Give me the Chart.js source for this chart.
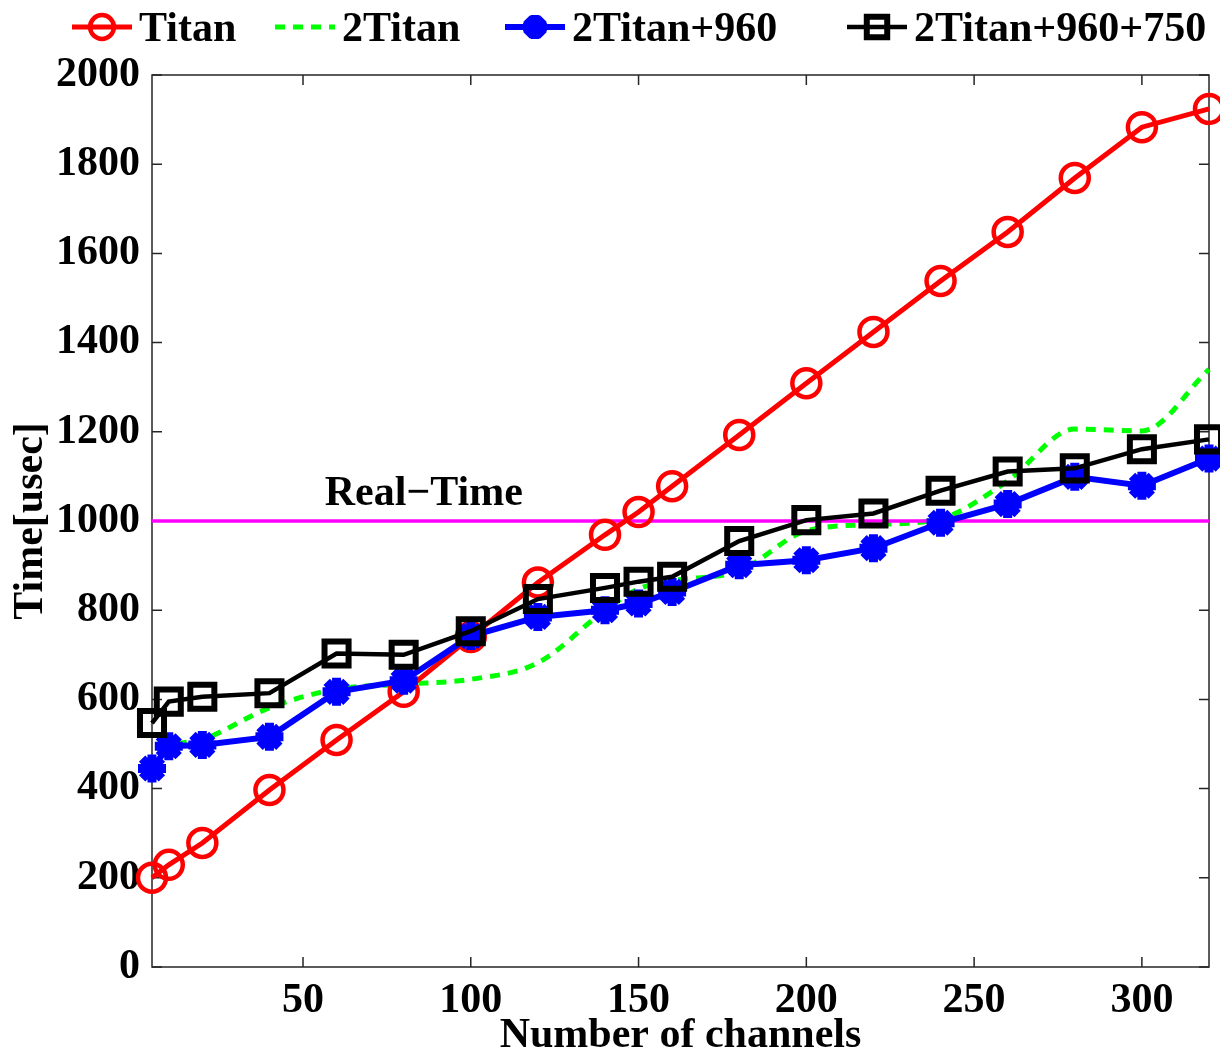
<!DOCTYPE html>
<html>
<head>
<meta charset="utf-8">
<script src="https://cdn.jsdelivr.net/npm/chart.js@4.4.0/dist/chart.umd.min.js"></script>
<style>
  html, body { margin: 0; padding: 0; background: #fff; }
  canvas { display: block; }
</style>
</head>
<body>
<canvas id="timeChart" width="1220" height="1053"></canvas>
<script>
// values
const channels = [5, 10, 20, 40, 60, 80, 100, 120, 140, 150, 160, 180, 200, 220, 240, 260, 280, 300, 320];
const titan = [200, 229, 278, 397, 509, 617, 740, 862, 969, 1020, 1078, 1193, 1309, 1424, 1538, 1648, 1769, 1883, 1924];
const twoTitan = [444, 491, 510, 581, 623, 634, 645, 682, 800, 848, 866, 888, 978, 992, 1005, 1090, 1206, 1202, 1340];
const twoTitan960 = [445, 495, 498, 516, 617, 642, 742, 785, 800, 815, 841, 901, 912, 939, 996, 1038, 1099, 1079, 1140];
const twoTitan960750 = [547, 595, 606, 614, 703, 700, 753, 825, 850, 864, 875, 955, 1002, 1017, 1068, 1111, 1118, 1161, 1183];
const realTimeLimit = 1000;
const realTimeLabelAt = 86;
const xTicks = [50, 100, 150, 200, 250, 300];
const yTicks = [0, 200, 400, 600, 800, 1000, 1200, 1400, 1600, 1800, 2000];

const FONT = 'Liberation Serif, Times New Roman, serif';
const toPoints = (arr) => channels.map((c, i) => ({ x: c, y: arr[i] }));

// legend entries: line sample start x (layout only)
const legendStarts = [72, 275, 505, 847];

const framePlugin = {
    id: 'frame',
    beforeDatasetsDraw(chart) {
        const { ctx, chartArea: a, scales: { x, y } } = chart;
        const tickLen = 10;
        ctx.save();
        ctx.strokeStyle = '#262626';
        ctx.lineWidth = 1.5;
        ctx.strokeRect(a.left, a.top, a.right - a.left, a.bottom - a.top);
        ctx.beginPath();
        xTicks.forEach(v => {
            const px = x.getPixelForValue(v);
            ctx.moveTo(px, a.bottom); ctx.lineTo(px, a.bottom - tickLen);
            ctx.moveTo(px, a.top); ctx.lineTo(px, a.top + tickLen);
        });
        yTicks.forEach(v => {
            const py = y.getPixelForValue(v);
            ctx.moveTo(a.left, py); ctx.lineTo(a.left + tickLen, py);
            ctx.moveTo(a.right, py); ctx.lineTo(a.right - tickLen, py);
        });
        ctx.stroke();
        ctx.restore();
    },
    afterDatasetsDraw(chart) {
        const { ctx, scales: { x, y } } = chart;
        ctx.save();
        ctx.font = 'bold 42px ' + FONT;
        ctx.fillStyle = '#000';
        ctx.textAlign = 'center';
        ctx.textBaseline = 'alphabetic';
        ctx.fillText('Real\u2212Time', x.getPixelForValue(realTimeLabelAt), y.getPixelForValue(realTimeLimit) - 16);
        ctx.restore();
    },
    afterDraw(chart) {
        const { ctx } = chart;
        const cy = 27;
        const entries = chart.data.datasets
            .filter(ds => ds.legendIndex !== undefined)
            .sort((a, b) => a.legendIndex - b.legendIndex);
        ctx.save();
        entries.forEach((ds, i) => {
            const x0 = legendStarts[i];
            ctx.save();
            ctx.strokeStyle = ds.borderColor;
            ctx.lineWidth = ds.borderWidth;
            ctx.setLineDash(ds.borderDash || []);
            ctx.beginPath();
            ctx.moveTo(x0, cy);
            ctx.lineTo(x0 + 60, cy);
            ctx.stroke();
            ctx.restore();
            if (ds.pointRadius && Chart.helpers && Chart.helpers.drawPoint) {
                ctx.save();
                ctx.strokeStyle = ds.pointBorderColor || ds.borderColor;
                ctx.fillStyle = ds.pointBackgroundColor;
                ctx.lineWidth = ds.pointBorderWidth;
                Chart.helpers.drawPoint(ctx, {
                    pointStyle: ds.pointStyle,
                    radius: ds.pointRadius * 0.85,
                    borderWidth: ds.pointBorderWidth,
                    rotation: 0
                }, x0 + 30, cy);
                ctx.restore();
            }
            ctx.font = 'bold 42px ' + FONT;
            ctx.fillStyle = '#000';
            ctx.textAlign = 'left';
            ctx.textBaseline = 'alphabetic';
            ctx.fillText(ds.label, x0 + 67, cy + 14);
        });
        ctx.restore();
    }
};

new Chart(document.getElementById('timeChart'), {
    type: 'line',
    data: {
        datasets: [
            {
                label: '2Titan+960+750',
                legendIndex: 3,
                data: toPoints(twoTitan960750),
                borderColor: '#000000',
                borderWidth: 4.5,
                pointStyle: 'rect',
                pointRadius: 17,
                pointBorderWidth: 6,
                pointBackgroundColor: 'rgba(0,0,0,0)',
                pointBorderColor: '#000000',
                order: 0
            },
            {
                label: '2Titan+960',
                legendIndex: 2,
                data: toPoints(twoTitan960),
                borderColor: '#0000ff',
                borderWidth: 6,
                pointStyle: 'star',
                pointRadius: 14,
                pointBorderWidth: 9,
                pointBackgroundColor: '#0000ff',
                pointBorderColor: '#0000ff',
                order: 1
            },
            {
                label: 'Titan',
                legendIndex: 0,
                data: toPoints(titan),
                borderColor: '#ff0000',
                borderWidth: 5,
                pointStyle: 'circle',
                pointRadius: 14,
                pointBorderWidth: 4.5,
                pointBackgroundColor: 'rgba(0,0,0,0)',
                pointBorderColor: '#ff0000',
                order: 2
            },
            {
                label: 'Real-Time',
                data: [{ x: channels[0], y: realTimeLimit }, { x: channels[channels.length - 1], y: realTimeLimit }],
                borderColor: '#ff00ff',
                borderWidth: 3.5,
                pointRadius: 0,
                order: 3
            },
            {
                label: '2Titan',
                legendIndex: 1,
                data: toPoints(twoTitan),
                borderColor: '#00ff00',
                borderWidth: 5,
                borderDash: [10, 8],
                pointRadius: 0,
                cubicInterpolationMode: 'monotone',
                order: 4
            }
        ].map(ds => Object.assign({ clip: false, fill: false }, ds))
    },
    options: {
        responsive: false,
        animation: false,
        devicePixelRatio: 1,
        layout: { autoPadding: false, padding: { top: 75, right: 11, left: 0, bottom: 0 } },
        plugins: {
            legend: { display: false },
            tooltip: { enabled: false }
        },
        scales: {
            x: {
                type: 'linear',
                min: 5,
                max: 320,
                afterBuildTicks: s => { s.ticks = xTicks.map(v => ({ value: v })); },
                afterFit: s => { s.height = 86; },
                grid: { display: false },
                border: { display: false },
                ticks: {
                    autoSkip: false,
                    maxRotation: 0,
                    padding: 1,
                    color: '#000',
                    callback: v => String(v),
                    font: { family: FONT, size: 42, weight: 'bold' }
                },
                title: {
                    display: true,
                    text: 'Number of channels',
                    color: '#000',
                    padding: 0,
                    font: { family: FONT, size: 42, weight: 'bold', lineHeight: 0.8 }
                }
            },
            y: {
                min: 0,
                max: 2000,
                afterBuildTicks: s => { s.ticks = yTicks.map(v => ({ value: v })); },
                afterFit: s => { s.width = 152; },
                grid: { display: false },
                border: { display: false },
                ticks: {
                    padding: 4,
                    color: '#000',
                    callback: v => String(v),
                    font: { family: FONT, size: 42, weight: 'bold' }
                },
                title: {
                    display: true,
                    text: 'Time[usec]',
                    color: '#000',
                    padding: { top: 10, bottom: 0 },
                    font: { family: FONT, size: 42, weight: 'bold', lineHeight: 1 }
                }
            }
        }
    },
    plugins: [framePlugin]
});
</script>
</body>
</html>
